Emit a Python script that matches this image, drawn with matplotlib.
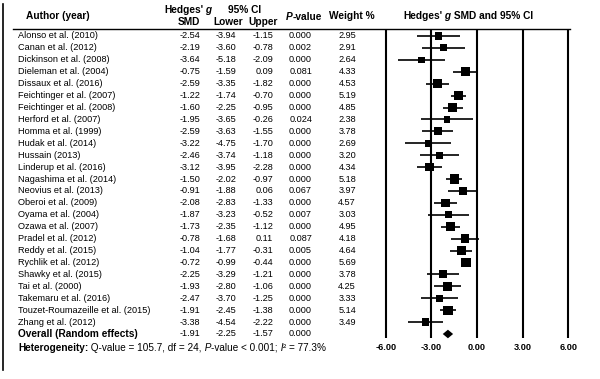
import matplotlib
matplotlib.use("Agg")
import matplotlib.pyplot as plt
from matplotlib.transforms import blended_transform_factory
from matplotlib.lines import Line2D
import numpy as np

plt.rcParams['font.family'] = ['Liberation Sans', 'DejaVu Sans']

# ---------------- data ----------------
authors = [
    "Alonso et al. (2010)", "Canan et al. (2012)", "Dickinson et al. (2008)",
    "Dieleman et al. (2004)", "Dissaux et al. (2016)", "Feichtinger et al. (2007)",
    "Feichtinger et al. (2008)", "Herford et al. (2007)", "Homma et al. (1999)",
    "Hudak et al. (2014)", "Hussain (2013)", "Linderup et al. (2016)",
    "Nagashima et al. (2014)", "Neovius et al. (2013)", "Oberoi et al. (2009)",
    "Oyama et al. (2004)", "Ozawa et al. (2007)", "Pradel et al. (2012)",
    "Reddy et al. (2015)", "Rychlik et al. (2012)", "Shawky et al. (2015)",
    "Tai et al. (2000)", "Takemaru et al. (2016)",
    "Touzet-Roumazeille et al. (2015)", "Zhang et al. (2012)",
]
smd = [-2.54, -2.19, -3.64, -0.75, -2.59, -1.22, -1.60, -1.95, -2.59, -3.22,
       -2.46, -3.12, -1.50, -0.91, -2.08, -1.87, -1.73, -0.78, -1.04, -0.72,
       -2.25, -1.93, -2.47, -1.91, -3.38]
lower = [-3.94, -3.60, -5.18, -1.59, -3.35, -1.74, -2.25, -3.65, -3.63, -4.75,
         -3.74, -3.95, -2.02, -1.88, -2.83, -3.23, -2.35, -1.68, -1.77, -0.99,
         -3.29, -2.80, -3.70, -2.45, -4.54]
upper = [-1.15, -0.78, -2.09, 0.09, -1.82, -0.70, -0.95, -0.26, -1.55, -1.70,
         -1.18, -2.28, -0.97, 0.06, -1.33, -0.52, -1.12, 0.11, -0.31, -0.44,
         -1.21, -1.06, -1.25, -1.38, -2.22]
pvalues = ["0.000", "0.002", "0.000", "0.081", "0.000", "0.000", "0.000",
           "0.024", "0.000", "0.000", "0.000", "0.000", "0.000", "0.067",
           "0.000", "0.007", "0.000", "0.087", "0.005", "0.000", "0.000",
           "0.000", "0.000", "0.000", "0.000"]
weights = [2.95, 2.91, 2.64, 4.33, 4.53, 5.19, 4.85, 2.38, 3.78, 2.69, 3.20,
           4.34, 5.18, 3.97, 4.57, 3.03, 4.95, 4.18, 4.64, 5.69, 3.78, 4.25,
           3.33, 5.14, 3.49]
overall_label = "Overall (Random effects)"
overall_smd = -1.91
overall_lower = -2.25
overall_upper = -1.57
overall_p = "0.000"
xticks = [-6.0, -3.0, 0.0, 3.0, 6.0]

# ---------------- layout ----------------
W, H = 600, 379
fig = plt.figure(figsize=(W / 100, H / 100), dpi=100)
x_left_px, x_right_px = 385.7, 568.3
ax = fig.add_axes([x_left_px / W, 0, (x_right_px - x_left_px) / W, 1])
ax.set_xlim(xticks[0], xticks[-1])
row0, dy = 36.0, 11.92
ax.set_ylim((H - row0) / dy, -row0 / dy)
ax.axis('off')

tx = blended_transform_factory(fig.transFigure, ax.transData)

def rpx(y_px):
    return (y_px - row0) / dy

body = 6.6
bold = 7.3

n = len(authors)
rows = np.arange(n)
r_over = n

# vertical reference lines
ax.vlines(xticks, rpx(30), rpx(338), color='black', lw=1.5, clip_on=False)

# CI lines + squares
ax.hlines(rows, lower, upper, color='black', lw=1.2, clip_on=False)
ms = (2.95 * np.sqrt(np.array(weights))) ** 2
ax.scatter(smd, rows, marker='s', s=ms, color='black', linewidths=0, zorder=3,
           clip_on=False)

# overall diamond
hd = 0.36
ax.fill([overall_lower, overall_smd, overall_upper, overall_smd],
        [r_over, r_over - hd, r_over, r_over + hd], color='black', lw=0,
        clip_on=False)

# tick labels
for t in xticks:
    ax.text(t, rpx(348), f"{t:.2f}", ha='center', va='center',
            fontsize=6.6, fontweight='bold')

# table body
for i in range(n):
    ax.text(18 / W, i, authors[i], transform=tx, fontsize=body, ha='left', va='center')
    ax.text(200 / W, i, f"{smd[i]:.2f}", transform=tx, fontsize=body, ha='right', va='center')
    ax.text(236.5 / W, i, f"{lower[i]:.2f}", transform=tx, fontsize=body, ha='right', va='center')
    ax.text(273 / W, i, f"{upper[i]:.2f}", transform=tx, fontsize=body, ha='right', va='center')
    ax.text(312 / W, i, pvalues[i], transform=tx, fontsize=body, ha='right', va='center')
    ax.text(356 / W, i, f"{weights[i]:.2f}", transform=tx, fontsize=body, ha='right', va='center')

ax.text(18 / W, r_over, overall_label, transform=tx, fontsize=bold,
        fontweight='bold', ha='left', va='center')
ax.text(200 / W, r_over, f"{overall_smd:.2f}", transform=tx, fontsize=body, ha='right', va='center')
ax.text(236.5 / W, r_over, f"{overall_lower:.2f}", transform=tx, fontsize=body, ha='right', va='center')
ax.text(273 / W, r_over, f"{overall_upper:.2f}", transform=tx, fontsize=body, ha='right', va='center')
ax.text(312 / W, r_over, overall_p, transform=tx, fontsize=body, ha='right', va='center')


def rich(x_px, r, pieces, size):
    txt, wt, st = pieces[0]
    prev = ax.text(x_px / W, r, txt, transform=tx, fontsize=size, fontweight=wt,
                   fontstyle=st, ha='left', va='center')
    for txt, wt, st in pieces[1:]:
        prev = ax.annotate(txt, xy=(1, 0), xycoords=prev, fontsize=size,
                           fontweight=wt, fontstyle=st, ha='left', va='bottom')


# heterogeneity line
rich(18, rpx(348), [("Heterogeneity:", 'bold', 'normal'),
                    (" Q-value = 105.7, df = 24,", 'normal', 'normal'),
                    (" P", 'normal', 'italic'),
                    ("-value < 0.001;", 'normal', 'normal'),
                    (" I", 'normal', 'italic'),
                    ("\u00b2 = 77.3%", 'normal', 'normal')], 7.2)

# headers
ax.text(26 / W, rpx(16), "Author (year)", transform=tx, fontsize=bold,
        fontweight='bold', ha='left', va='center')
rich(164, rpx(10), [("Hedges'", 'bold', 'normal'), (" g", 'bold', 'italic')], bold)
ax.text(245 / W, rpx(10), "95% CI", transform=tx, fontsize=bold,
        fontweight='bold', ha='center', va='center')
ax.text(189 / W, rpx(22), "SMD", transform=tx, fontsize=bold,
        fontweight='bold', ha='center', va='center')
ax.text(228 / W, rpx(22), "Lower", transform=tx, fontsize=bold,
        fontweight='bold', ha='center', va='center')
ax.text(263 / W, rpx(22), "Upper", transform=tx, fontsize=bold,
        fontweight='bold', ha='center', va='center')
rich(286, rpx(17), [("P", 'bold', 'italic'), ("-value", 'bold', 'normal')], bold)
ax.text(352 / W, rpx(16), "Weight %", transform=tx, fontsize=bold,
        fontweight='bold', ha='center', va='center')
rich(403, rpx(16), [("Hedges'", 'bold', 'normal'), (" g", 'bold', 'italic'),
                    (" SMD and 95% CI", 'bold', 'normal')], bold)

# header rule and left frame line
fig.add_artist(Line2D([13 / W, 570 / W], [1 - 28.5 / H, 1 - 28.5 / H],
                      color='black', lw=1.0))
fig.add_artist(Line2D([2.5 / W, 2.5 / W], [1 - 4 / H, 1 - 370 / H],
                      color='black', lw=1.2))

fig.savefig("out.png", dpi=100, facecolor='white')
